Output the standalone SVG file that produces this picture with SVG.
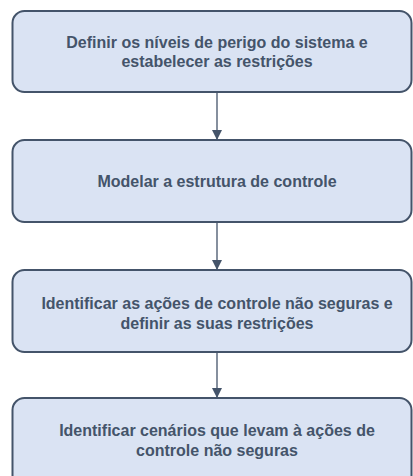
<svg xmlns="http://www.w3.org/2000/svg" width="413" height="476" viewBox="0 0 413 476">
<defs>
<style>
.box{fill:#dae3f3;stroke:#44546a;stroke-width:2}
.lbl{font-family:"Liberation Sans",Arial,sans-serif;font-weight:bold;font-size:16px;fill:#44546a;text-anchor:middle}
.conn{stroke:#44546a;stroke-width:1.3;fill:none}
</style>
<marker id="arr" viewBox="0 0 10 10" refX="10" refY="5" markerWidth="10" markerHeight="10" markerUnits="userSpaceOnUse" orient="auto">
<path d="M0,0 L10,5 L0,10 Z" fill="#44546a"/>
</marker>
</defs>
<rect width="413" height="476" fill="#ffffff"/>
<g id="connectors">
<line class="conn" x1="217" y1="92" x2="217" y2="140" marker-end="url(#arr)"/>
<line class="conn" x1="217" y1="222" x2="217" y2="270" marker-end="url(#arr)"/>
<line class="conn" x1="217" y1="352" x2="217" y2="398" marker-end="url(#arr)"/>
</g>
<g id="node1">
<rect class="box" x="12.5" y="11" width="399" height="81" rx="12"/>
<text class="lbl" x="217" y="48">Definir os níveis de perigo do sistema e</text>
<text class="lbl" x="217" y="67">estabelecer as restrições</text>
</g>
<g id="node2">
<rect class="box" x="12.5" y="140" width="399" height="82" rx="12"/>
<text class="lbl" x="217" y="187">Modelar a estrutura de controle</text>
</g>
<g id="node3">
<rect class="box" x="12.5" y="270" width="399" height="82" rx="12"/>
<text class="lbl" x="217" y="309">Identificar as ações de controle não seguras e</text>
<text class="lbl" x="217" y="329">definir as suas restrições</text>
</g>
<g id="node4">
<rect class="box" x="12.5" y="398" width="399" height="90" rx="12"/>
<text class="lbl" x="217" y="436">Identificar cenários que levam à ações de</text>
<text class="lbl" x="217" y="456">controle não seguras</text>
</g>
</svg>
